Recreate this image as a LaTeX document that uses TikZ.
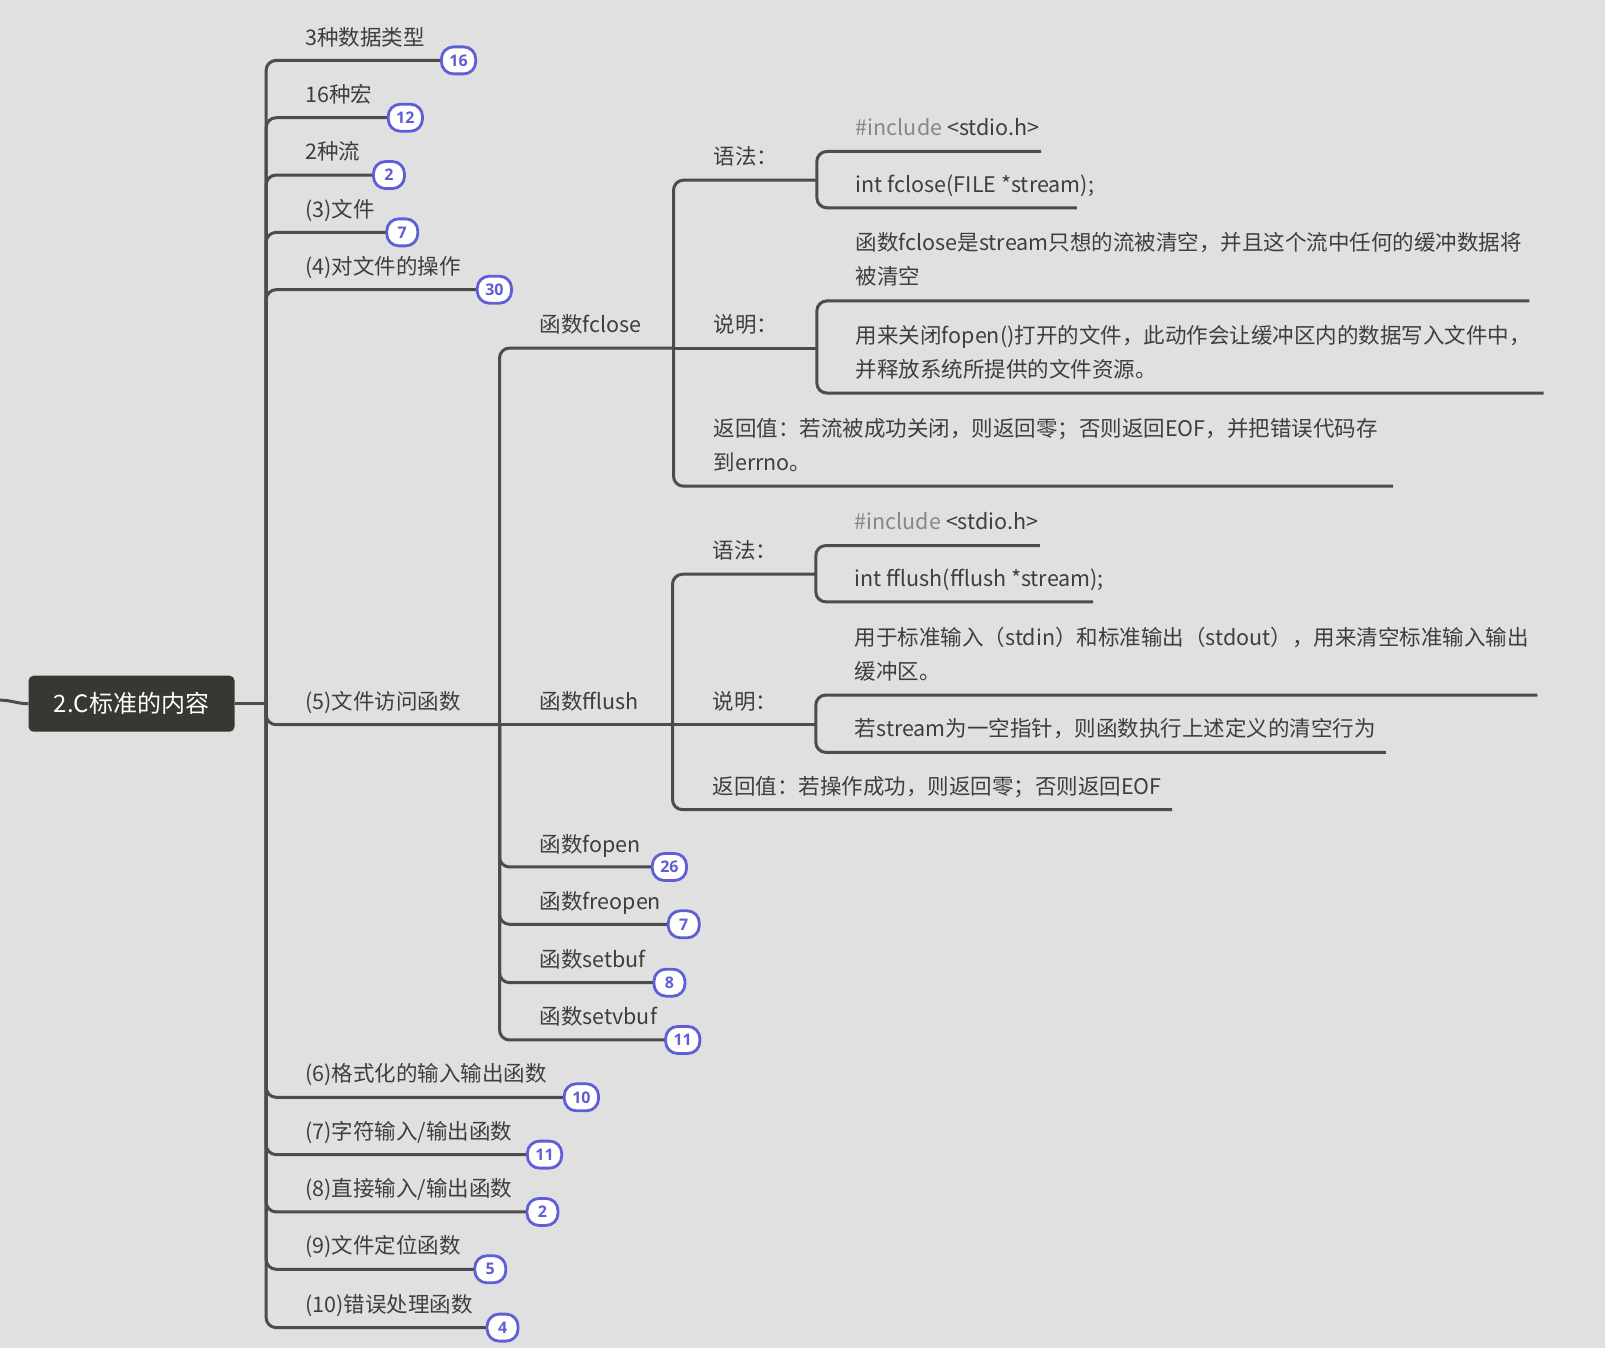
\documentclass[tikz,border=0pt]{standalone}
\usepackage{fontspec}
\setmainfont{Noto Sans CJK SC}
\newfontfamily\badgefont{Open Sans}
\usetikzlibrary{positioning}
\definecolor{bgc}{RGB}{224,224,224}
\definecolor{linec}{RGB}{76,76,76}
\definecolor{txtc}{RGB}{62,62,62}
\definecolor{hintc}{RGB}{135,135,135}
\definecolor{badgec}{RGB}{94,94,214}
\definecolor{rootc}{RGB}{55,56,50}
\tikzset{
    wire/.style={
        draw=linec,
        line width=3pt,
        rounded corners=10pt
    },
    lbl/.style={
        anchor=base west,
        inner sep=0pt,
        text=txtc,
        font=\fontsize{21.5}{34.5}\selectfont
    },
    note/.style={
        lbl,
        align=left
    },
    badge/.style={
        draw=badgec,
        fill=white,
        line width=2.8pt,
        rounded corners=12pt,
        minimum height=27pt,
        minimum width=31pt,
        inner xsep=8pt,
        inner ysep=0pt,
        text=badgec,
        font=\badgefont\bfseries\fontsize{16}{16}\selectfont
    },
    topic/.style={
        fill=rootc,
        rounded corners=5pt,
        minimum width=206pt,
        minimum height=56pt,
        text=white,
        font=\fontsize{24}{24}\selectfont
    }
}

\begin{document}
\begin{tikzpicture}[x=1.0236pt, y=-1.0236pt]
    \fill[bgc] (0,0) rectangle (1568,1317);
    \useasboundingbox (0,0) rectangle (1568,1317);

    \node[topic] (root) at (128.5,687.5) {2.C标准的内容};
    \coordinate (inlet) at (0,684);
    \coordinate (spine) at (260,687.5);
    \draw[wire] (inlet) to[out=0, in=180] (root.west);
    \draw[wire] (root.east) -- (spine);

    % first level
    \node[lbl] (t1) at (298,44) {3种数据类型};
    \node[lbl] (t2) at (298,100) {16种宏};
    \node[lbl] (t3) at (298,156) {2种流};
    \node[lbl] (t4) at (298,212) {(3)文件};
    \node[lbl] (t5) at (298,268) {(4)对文件的操作};
    \node[lbl] (t6) at (298,693) {(5)文件访问函数};
    \node[lbl] (t7) at (298,1057) {(6)格式化的输入输出函数};
    \node[lbl] (t8) at (298,1113) {(7)字符输入/输出函数};
    \node[lbl] (t9) at (298,1169) {(8)直接输入/输出函数};
    \node[lbl] (t10) at (298,1225) {(9)文件定位函数};
    \node[lbl] (t11) at (298,1282) {(10)错误处理函数};

    \coordinate (hub5) at (488,708);
    \draw[wire] (spine) |- (hub5);
    \foreach \y/\n/\x/\name in {59/16/448/b1, 115/12/396/b2, 171/2/380/b3, 227/7/393/b4, 283/30/483/b5,
                                1072/10/568/b7, 1128/11/532/b8, 1184/2/530/b9, 1240/5/479/b10, 1297/4/491/b11}{
        \draw[wire] (spine) |- (\x-15,\y);
        \node[badge] (\name) at (\x,\y) {\n};
    }

    % file access functions
    \node[lbl] (f1) at (527,325) {函数fclose};
    \node[lbl] (f2) at (527,693) {函数fflush};
    \node[lbl] (f3) at (527,833) {函数fopen};
    \node[lbl] (f4) at (527,889) {函数freopen};
    \node[lbl] (f5) at (527,945) {函数setbuf};
    \node[lbl] (f6) at (527,1001) {函数setvbuf};

    \coordinate (hubA) at (658,340);
    \coordinate (hubB) at (657,708);
    \draw[wire] (hub5) |- (hubA);
    \draw[wire] (hub5) -- (hubB);
    \foreach \y/\n/\x/\name in {847/26/654/bf3, 903/7/668/bf4, 960/8/654/bf5, 1016/11/667/bf6}{
        \draw[wire] (hub5) |- (\x-15,\y);
        \node[badge] (\name) at (\x,\y) {\n};
    }

    % fclose
    \node[lbl] (sA1) at (697,161) {语法：};
    \node[lbl] (sA2) at (697,325) {说明：};
    \node[note] (sA3) at (697,460) {返回值：若流被成功关闭，则返回零；否则返回EOF，并把错误代码存\\到errno。};
    \node[lbl] (dA11) at (836,132) {\textcolor{hintc}{\#include} <stdio.h>};
    \node[lbl] (dA12) at (836,188) {int fclose(FILE *stream);};
    \node[note] (dA21) at (836,278) {函数fclose是stream只想的流被清空，并且这个流中任何的缓冲数据将\\被清空};
    \node[note] (dA22) at (836,369) {用来关闭fopen()打开的文件，此动作会让缓冲区内的数据写入文件中，\\并释放系统所提供的文件资源。};

    \coordinate (hubA1) at (798,176);
    \coordinate (hubA2) at (798,340);
    \coordinate (eA3) at (1361,475);
    \coordinate (eA11) at (1017,148);
    \coordinate (eA12) at (1052,203);
    \coordinate (eA21) at (1494,294);
    \coordinate (eA22) at (1508,384);
    \draw[wire] (hubA) |- (hubA1);
    \draw[wire] (hubA) -- (hubA2);
    \draw[wire] (hubA) |- (eA3);
    \draw[wire] (hubA1) |- (eA11);
    \draw[wire] (hubA1) |- (eA12);
    \draw[wire] (hubA2) |- (eA21);
    \draw[wire] (hubA2) |- (eA22);

    % fflush
    \node[lbl] (sB1) at (696,546) {语法：};
    \node[lbl] (sB2) at (696,693) {说明：};
    \node[lbl] (sB3) at (696,776) {返回值：若操作成功，则返回零；否则返回EOF};
    \node[lbl] (dB11) at (835,517) {\textcolor{hintc}{\#include} <stdio.h>};
    \node[lbl] (dB12) at (835,573) {int fflush(fflush *stream);};
    \node[note] (dB21) at (835,664) {用于标准输入（stdin）和标准输出（stdout），用来清空标准输入输出\\缓冲区。};
    \node[lbl] (dB22) at (835,720) {若stream为一空指针，则函数执行上述定义的清空行为};

    \coordinate (hubB1) at (797,561);
    \coordinate (hubB2) at (797,708);
    \coordinate (eB3) at (1145,791);
    \coordinate (eB11) at (1016,533);
    \coordinate (eB12) at (1068,588);
    \coordinate (eB21) at (1502,679);
    \coordinate (eB22) at (1354,735);
    \draw[wire] (hubB) |- (hubB1);
    \draw[wire] (hubB) -- (hubB2);
    \draw[wire] (hubB) |- (eB3);
    \draw[wire] (hubB1) |- (eB11);
    \draw[wire] (hubB1) |- (eB12);
    \draw[wire] (hubB2) |- (eB21);
    \draw[wire] (hubB2) |- (eB22);
\end{tikzpicture}
\end{document}
